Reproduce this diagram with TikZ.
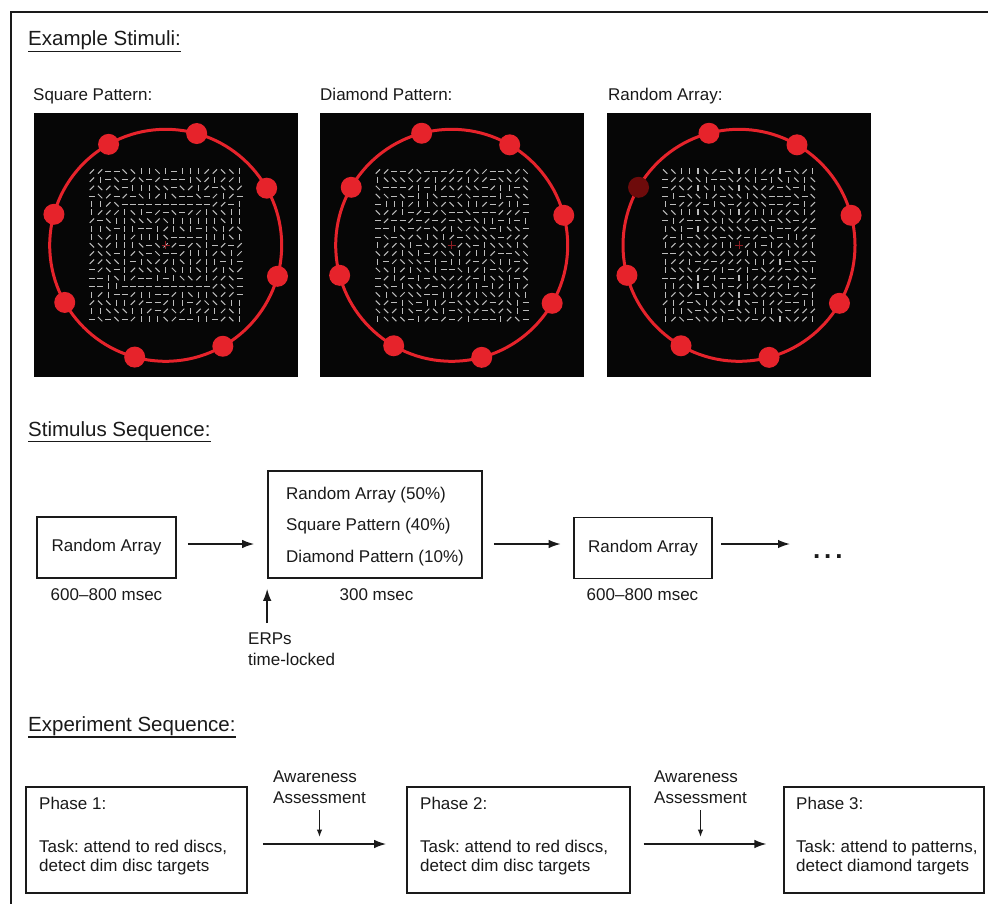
\documentclass[tikz,border=0pt]{standalone}
\usepackage{fontspec}
\setmainfont{Liberation Sans}
\usetikzlibrary{arrows.meta,calc}
\frenchspacing

\definecolor{ink}{HTML}{1A1A1A}
\definecolor{discred}{HTML}{E6232B}
\definecolor{dimdisc}{HTML}{6E0B0B}
\definecolor{segcol}{HTML}{BDBDBD}
\definecolor{fixcol}{HTML}{8E1E24}
\definecolor{panelbg}{HTML}{060606}

\tikzset{
  heading/.style={anchor=base west, inner sep=0pt, text=ink, font=\fontsize{20.5}{24}\selectfont},
  txt/.style={anchor=base west, inner sep=0pt, text=ink, font=\fontsize{17}{20}\selectfont},
  ctxt/.style={anchor=base, inner sep=0pt, text=ink, font=\fontsize{17}{20}\selectfont},
  box/.style={draw=ink, line width=1.7pt, rectangle, inner sep=0pt, text=ink, font=\fontsize{17}{20}\selectfont},
  arr/.style={draw=ink, line width=1.5pt, -{Latex[length=12pt,width=8.5pt]}},
  sarr/.style={draw=ink, line width=1.1pt, -{Latex[length=7.5pt,width=5.5pt]}},
  uline/.style={draw=ink, line width=1.3pt},
  seg/.style={draw=segcol, line width=1.05pt},
}

% end points of one short line element, by orientation 0..3
\newcommand{\segends}[1]{%
  \ifcase#1\relax
    \def\segsx{-3.0}\def\segsy{0}\def\segex{3.0}\def\segey{0}%
  \or
    \def\segsx{-2.15}\def\segsy{-2.15}\def\segex{2.15}\def\segey{2.15}%
  \or
    \def\segsx{0}\def\segsy{-3.0}\def\segex{0}\def\segey{3.0}%
  \else
    \def\segsx{-2.15}\def\segsy{2.15}\def\segex{2.15}\def\segey{-2.15}%
  \fi}

% one stimulus display: centre x, centre y, figure (0 none, 1 square, 2 diamond), seed
\newcommand{\stimpanel}[4]{%
  \begin{scope}[shift={(#1,#2)}]
    \fill[panelbg] (-132,-132) rectangle (132,132);
    \pgfmathsetseed{#4}%
    \foreach \i in {0,...,18}{%
      \foreach \j in {0,...,18}{%
        \pgfmathrandominteger{\ori}{0}{3}%
        \pgfmathtruncatemacro{\ddi}{abs(\i-9)}%
        \pgfmathtruncatemacro{\ddj}{abs(\j-9)}%
        \ifnum#3=1
          \ifnum\ddi=5 \ifnum\ddj<6 \def\ori{2}\fi\fi
          \ifnum\ddj=5 \ifnum\ddi<6 \def\ori{0}\fi\fi
        \fi
        \ifnum#3=2
          \pgfmathtruncatemacro{\dsum}{\ddi+\ddj}%
          \ifnum\dsum=6 \ifnum\ddi>0 \ifnum\ddj>0
            \pgfmathtruncatemacro{\ori}{(\i-9)*(\j-9)>0 ? 3 : 1}%
          \fi\fi\fi
        \fi
        \segends{\ori}%
        \pgfmathsetmacro{\px}{(\i-9)*8.2}%
        \pgfmathsetmacro{\py}{(\j-9)*8.2}%
        \draw[seg, shift={(\px,\py)}] (\segsx,\segsy) -- (\segex,\segey);
      }%
    }%
    \draw[fixcol, line width=0.9pt] (-4,0) -- (4,0) (0,-4) -- (0,4);
    \draw[discred, line width=3pt] (0,0) circle (116);
  \end{scope}}

\begin{document}
\begin{tikzpicture}[x=1pt,y=-1pt]
\useasboundingbox (0,0) rectangle (988,904);
\fill[white] (0,0) rectangle (988,904);

% outer frame (left and top edges)
\draw[ink, line width=2pt] (10.5,904) -- (10.5,12) -- (988,12);

% ---------------- Example stimuli ----------------
\node[heading] (hStim) at (28,46) {Example Stimuli:};
\draw[uline] ([yshift=-5.5pt]hStim.base west) -- ([yshift=-5.5pt]hStim.base east);

\node[txt] (lSq) at (33,101) {Square Pattern:};
\node[txt] (lDi) at (320,101) {Diamond Pattern:};
\node[txt] (lRa) at (608,101) {Random Array:};

\stimpanel{165.7}{245.3}{1}{11}
\begin{scope}[shift={(165.7,245.3)}]
  \foreach \a in {-29.5,-74.5,-119.5,-164.5,-209.5,-254.5,-299.5,-344.5}
    \fill[discred] (\a:116) circle (10.5);
\end{scope}

\stimpanel{451.7}{245.3}{2}{23}
\begin{scope}[shift={(451.7,245.3)}]
  \foreach \a in {-15,-60,-105,-150,-195,-240,-285,-330}
    \fill[discred] (\a:116) circle (10.5);
\end{scope}

\stimpanel{739}{245.3}{0}{37}
\begin{scope}[shift={(739,245.3)}]
  \foreach \a in {-15,-60,-105,-195,-240,-285,-330}
    \fill[discred] (\a:116) circle (10.5);
  \fill[dimdisc] (-150:116) circle (10.5);
\end{scope}

% ---------------- Stimulus sequence ----------------
\node[heading] (hSeq) at (28,436) {Stimulus Sequence:};
\draw[uline] ([yshift=-5.5pt]hSeq.base west) -- ([yshift=-5.5pt]hSeq.base east);

\node[box, minimum width=139pt, minimum height=61pt] (b1) at (106.5,547.5) {Random Array};
\node[ctxt] (d1) at (106.5,600) {600–800 msec};

\node[box, minimum width=214pt, minimum height=107pt] (b2) at (375,524.5) {};
\node[txt] (o1) at (286,499) {Random Array (50\%)};
\node[txt] (o2) at (286,530.5) {Square Pattern (40\%)};
\node[txt] (o3) at (286,562) {Diamond Pattern (10\%)};
\node[ctxt] (d2) at (376.5,600) {300 msec};

\node[box, minimum width=138pt, minimum height=61pt] (b3) at (643,548) {Random Array};
\node[ctxt] (d3) at (642.5,600) {600–800 msec};

\node[anchor=base west, inner sep=0pt, text=ink, font=\fontsize{26}{28}\bfseries] (dots) at (813,558) {.\kern3.8pt.\kern3.8pt.};

\coordinate (s1) at ([yshift=3.5pt]b1.east);
\draw[arr, shorten <=11pt, shorten >=13pt] (s1) -- (s1 -| b2.west);
\coordinate (s2) at (b2.east |- s1);
\draw[arr, shorten <=11pt, shorten >=12.5pt] (s2) -- (s2 -| b3.west);
\coordinate (s3) at (b3.east |- s1);
\draw[arr, shorten <=8.5pt, shorten >=23pt] (s3) -- (s3 -| dots.west);

\node[txt] (erp1) at (248,644) {ERPs};
\node[txt] (erp2) at (248,665) {time-locked};
\draw[arr, shorten <=9pt, shorten >=10pt] (erp1.north -| b2.south west) -- (b2.south west);

% ---------------- Experiment sequence ----------------
\node[heading] (hExp) at (28,731.5) {Experiment Sequence:};
\draw[uline] ([yshift=-5.5pt]hExp.base west) -- ([yshift=-5.5pt]hExp.base east);

\node[box, minimum width=221pt, minimum height=106pt] (p1) at (136.5,840) {};
\node[box, minimum width=223pt, minimum height=106pt] (p2) at (518.5,840) {};
\node[box, minimum width=200pt, minimum height=106pt] (p3) at (884,840) {};

\node[txt] (p1a) at (39,809) {Phase 1:};
\node[txt] (p1b) at (39,852) {Task: attend to red discs,};
\node[txt] (p1c) at (39,871.5) {detect dim disc targets};

\node[txt] (p2a) at (420,809) {Phase 2:};
\node[txt] (p2b) at (420,852) {Task: attend to red discs,};
\node[txt] (p2c) at (420,871.5) {detect dim disc targets};

\node[txt] (p3a) at (796,809) {Phase 3:};
\node[txt] (p3b) at (796,852) {Task: attend to patterns,};
\node[txt] (p3c) at (796,871.5) {detect diamond targets};

\node[txt] (aw1) at (273,782) {Awareness};
\node[txt] (as1) at (273,803) {Assessment};
\node[txt] (aw2) at (654,782) {Awareness};
\node[txt] (as2) at (654,803) {Assessment};

\coordinate (e1) at ([yshift=-4pt]p1.east);
\draw[arr, shorten <=15pt, shorten >=20pt] (e1) -- (e1 -| p2.west);
\coordinate (e2) at ([yshift=-4pt]p2.east);
\draw[arr, shorten <=12.7pt, shorten >=16.7pt] (e2) -- (e2 -| p3.west);

\draw[sarr, shorten <=7pt, shorten >=7pt] (as1.south) -- (as1.south |- e1);
\draw[sarr, shorten <=7pt, shorten >=7pt] (as2.south) -- (as2.south |- e2);
\end{tikzpicture}
\end{document}
